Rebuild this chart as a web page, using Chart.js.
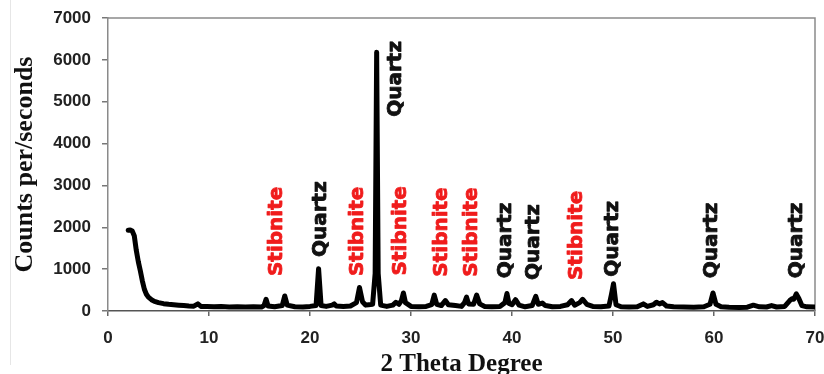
<!DOCTYPE html>
<html>
<head>
<meta charset="utf-8">
<title>XRD pattern</title>
<script src="https://cdn.jsdelivr.net/npm/chart.js@4/dist/chart.umd.min.js"></script>
<style>
    html, body { margin: 0; padding: 0; background: #fff; }
    #wrap { width: 824px; height: 374px; position: relative; }
</style>
</head>
<body>
<div id="wrap"><canvas id="xrdChart"></canvas></div>
<script>
// ====================== DATA ======================
// 2 theta (degrees) and counts per second
const twoTheta = [
    2.0, 2.2, 2.4, 2.6, 2.8, 3.0, 3.2, 3.4, 3.6, 3.8, 4.0, 4.3, 4.6, 5.0, 5.5, 6.0, 6.5, 7.0, 7.5, 8.0,
    8.5, 8.9, 9.2, 9.8, 10.5, 11.2, 12.0, 12.8, 13.6, 14.4, 15.2, 15.45, 15.65, 15.85, 16.5, 17.25, 17.5, 17.75, 18.5, 19.3,
    20.0, 20.6, 20.85, 21.1, 21.6, 22.2, 22.4, 22.6, 23.3, 24.0, 24.6, 24.9, 25.2, 25.5, 25.8, 26.2, 26.45, 26.6, 26.75, 27.0,
    27.6, 28.2, 28.5, 28.8, 29.05, 29.25, 29.45, 30.0, 30.8, 31.5, 32.05, 32.3, 32.55, 33.0, 33.4, 33.7, 34.4, 35.0, 35.3, 35.5,
    35.7, 36.2, 36.5, 36.8, 37.3, 38.0, 38.8, 39.3, 39.5, 39.7, 40.0, 40.35, 40.7, 41.3, 42.0, 42.35, 42.6, 43.0, 43.3, 44.0,
    44.8, 45.5, 45.9, 46.2, 46.7, 47.0, 47.4, 48.0, 48.8, 49.6, 49.85, 50.05, 50.3, 50.8, 51.6, 52.4, 53.0, 53.4, 54.0, 54.3,
    54.6, 54.9, 55.3, 56.0, 57.0, 58.0, 59.0, 59.6, 59.9, 60.2, 60.7, 61.5, 62.5, 63.3, 63.9, 64.5, 65.2, 65.7, 66.2, 67.0,
    67.5, 67.7, 67.9, 68.15, 68.4, 68.7, 69.2, 70.0
];
const counts = [
    1930, 1935, 1910, 1800, 1450, 1180, 960, 720, 520, 400, 330, 270, 230, 200, 175, 160, 150, 140, 130, 120,
    115, 170, 110, 105, 100, 105, 95, 100, 95, 100, 95, 130, 280, 120, 100, 130, 360, 140, 100, 95,
    110, 130, 1010, 130, 110, 140, 170, 120, 110, 120, 200, 560, 220, 140, 150, 160, 900, 6180, 900, 140,
    110, 140, 210, 160, 250, 430, 200, 110, 100, 110, 150, 380, 160, 130, 250, 150, 130, 110, 200, 330,
    170, 160, 380, 170, 110, 100, 110, 200, 420, 180, 150, 270, 140, 100, 130, 350, 160, 190, 130, 100,
    110, 150, 250, 140, 200, 280, 160, 110, 100, 120, 400, 650, 150, 100, 95, 100, 170, 110, 150, 210,
    170, 200, 120, 100, 95, 90, 100, 160, 430, 160, 100, 90, 85, 90, 140, 100, 95, 130, 95, 110,
    250, 290, 280, 410, 300, 130, 100, 95
];

// Peak labels: phase name, 2 theta position, counts where the text starts
const peakNames = ["Stibnite", "Quartz", "Stibnite", "Quartz", "Stibnite", "Stibnite", "Stibnite",
                   "Quartz", "Quartz", "Stibnite", "Quartz", "Quartz", "Quartz"];
const peakPos = [16.68, 21.1, 24.78, 28.5, 29.0, 33.0, 36.0, 39.4, 42.2, 46.4, 50.0, 59.77, 68.2];
const peakBase = [835, 1290, 835, 4640, 850, 820, 820, 780, 740, 740, 820, 780, 780];

const xTicks = [0, 10, 20, 30, 40, 50, 60, 70];
const yTicks = [0, 1000, 2000, 3000, 4000, 5000, 6000, 7000];

// ====================== PLUGINS ======================
// Rotated phase labels above the peaks
const peakLabels = {
    id: "peakLabels",
    afterDatasetsDraw(chart) {
        const { ctx, scales: { x, y } } = chart;
        ctx.save();
        ctx.font = 'bold 20px "DejaVu Sans", Verdana, sans-serif';
        ctx.textAlign = "left";
        ctx.textBaseline = "middle";
        ctx.lineWidth = 0.8;
        ctx.lineJoin = "round";
        peakNames.forEach((name, i) => {
            const color = name === "Stibnite" ? "#f01c1c" : "#111";
            ctx.save();
            ctx.translate(x.getPixelForValue(peakPos[i]), y.getPixelForValue(peakBase[i]));
            ctx.rotate(-Math.PI / 2);
            ctx.fillStyle = color;
            ctx.strokeStyle = color;
            ctx.fillText(name, 0, 0);
            ctx.strokeText(name, 0, 0); // a bit heavier, like the scan
            ctx.restore();
        });
        ctx.restore();
    }
};

// Top and right sides of the plot box
const plotBox = {
    id: "plotBox",
    beforeDatasetsDraw(chart) {
        const { ctx, chartArea: a } = chart;
        ctx.save();
        ctx.strokeStyle = "#8a8a8a";
        ctx.lineWidth = 1.5;
        ctx.beginPath();
        ctx.moveTo(a.left, a.top);
        ctx.lineTo(a.right, a.top);
        ctx.lineTo(a.right, a.bottom);
        ctx.stroke();
        // faint edge of the scanned figure
        ctx.strokeStyle = "#e6e6e6";
        ctx.lineWidth = 1;
        ctx.beginPath();
        ctx.moveTo(10.5, 0);
        ctx.lineTo(10.5, 365);
        ctx.stroke();
        ctx.restore();
    }
};

// ====================== CHART ======================
function fixedSize(prop, size) {
    return scale => {
        scale[prop] = size;
        scale.paddingLeft = 0;
        scale.paddingRight = 0;
        scale.paddingTop = 0;
        scale.paddingBottom = 0;
    };
}

const tickFont = { family: '"Liberation Sans", Arial, sans-serif', size: 17, weight: "bold" };
const titleFont = { family: '"Liberation Serif", "Times New Roman", serif', size: 25, weight: "bold" };

const ctx = document.getElementById("xrdChart").getContext("2d");
new Chart(ctx, {
    type: "line",
    data: {
        datasets: [{
            data: twoTheta.map((t, i) => ({ x: t, y: counts[i] })),
            borderColor: "#000",
            borderWidth: 5,
            borderJoinStyle: "round",
            borderCapStyle: "round",
            pointRadius: 0,
            tension: 0,
            fill: false
        }]
    },
    options: {
        responsive: true,
        maintainAspectRatio: false,
        animation: false,
        layout: { padding: { top: 18, right: 9, bottom: 0, left: 0 } },
        plugins: {
            legend: { display: false },
            tooltip: { enabled: false }
        },
        scales: {
            x: {
                type: "linear",
                min: 0,
                max: 70,
                afterBuildTicks: s => { s.ticks = xTicks.map(v => ({ value: v })); },
                afterFit: fixedSize("height", 63),
                grid: { drawOnChartArea: false, color: "#666", tickLength: 5, lineWidth: 1.5 },
                border: { color: "#555", width: 1.5 },
                ticks: {
                    padding: 12,
                    color: "#222",
                    maxRotation: 0,
                    font: tickFont,
                    callback: v => String(v)
                },
                title: {
                    display: true,
                    text: "2 Theta Degree",
                    color: "#111",
                    padding: { top: 0, bottom: -6 },
                    font: titleFont
                }
            },
            y: {
                min: 0,
                max: 7000,
                afterBuildTicks: s => { s.ticks = yTicks.map(v => ({ value: v })); },
                afterFit: fixedSize("width", 108),
                grid: { drawOnChartArea: false, color: "#777", tickLength: 6, lineWidth: 1.5 },
                border: { color: "#8a8a8a", width: 1.5 },
                ticks: {
                    padding: 11,
                    color: "#222",
                    font: tickFont,
                    callback: v => String(v)
                },
                title: {
                    display: true,
                    text: "Counts per/seconds",
                    color: "#111",
                    padding: { top: 10, bottom: 0 },
                    font: { ...titleFont, size: 26 }
                }
            }
        }
    },
    plugins: [plotBox, peakLabels]
});
</script>
</body>
</html>
